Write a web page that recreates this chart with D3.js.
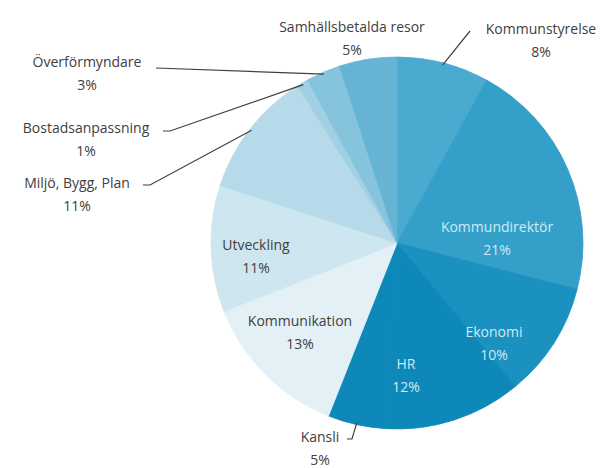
<!DOCTYPE html>
<html>
<head>
<meta charset="utf-8">
<script src="https://cdn.jsdelivr.net/npm/d3@7"></script>
<style>
  body { margin: 0; background: #fff; }
  svg text { font-family: 'Open Sans', sans-serif; }
</style>
</head>
<body>
<svg id="chart" width="610" height="468"></svg>
<script>
const categories = ['Kommunstyrelse', 'Kommundirektör', 'Ekonomi', 'HR', 'Kansli', 'Kommunikation',
  'Utveckling', 'Miljö, Bygg, Plan', 'Bostadsanpassning', 'Överförmyndare', 'Samhällsbetalda resor'];
const values = [8, 21, 10, 12, 5, 13, 11, 11, 1, 3, 5];
const sliceColors = ['#4aaad0', '#34a0c9', '#1a91be', '#0e88b9', '#0e88b9', '#e3f1f7',
  '#cde6f0', '#b6dae9', '#9fd0e3', '#86c3dc', '#66b4d4'];

const svg = d3.select('#chart');
const cx = 397;
const cy = 243;
const radius = 186;

// label placement, relative to the pie centre
const labelPos = {
  Kommunstyrelse: { x: 144, y: -214, leader: [[73, -212]] },
  'Kommundirektör': { x: 100, y: -16, light: true },
  Ekonomi: { x: 97, y: 89, light: true },
  HR: { x: 9, y: 121, light: true },
  Kansli: { x: -77, y: 194, leader: [[-50, 196], [-45, 196]] },
  Kommunikation: { x: -97, y: 78 },
  Utveckling: { x: -141, y: 2 },
  'Miljö, Bygg, Plan': { x: -320, y: -60, leader: [[-254, -58], [-247, -58]] },
  Bostadsanpassning: { x: -311, y: -115, leader: [[-234, -112], [-227, -112]] },
  'Överförmyndare': { x: -310, y: -181, leader: [[-241, -175]] },
  'Samhällsbetalda resor': { x: -45, y: -216 },
};

const data = categories.map((name, i) => ({ name, value: values[i], color: sliceColors[i] }));

const pie = d3.pie().sort(null).value(d => d.value);
const arc = d3.arc().innerRadius(0).outerRadius(radius);
const arcs = pie(data);

const g = svg.append('g').attr('transform', `translate(${cx},${cy})`);

g.selectAll('path.slice')
  .data(arcs)
  .enter()
  .append('path')
  .attr('class', 'slice')
  .attr('d', arc)
  .attr('fill', d => d.data.color)
  .attr('stroke', d => d.data.color)
  .attr('stroke-width', 0.8);

// leader lines end on the rim at the middle of each slice
const rimPoint = (d) => {
  const a = (d.startAngle + d.endAngle) / 2;
  return [Math.sin(a) * (radius - 2), -Math.cos(a) * (radius - 2)];
};

g.selectAll('path.leader')
  .data(arcs.filter(d => labelPos[d.data.name].leader))
  .enter()
  .append('path')
  .attr('class', 'leader')
  .attr('fill', 'none')
  .attr('stroke', '#404040')
  .attr('stroke-width', 1.2)
  .attr('d', d => d3.line()([...labelPos[d.data.name].leader, rimPoint(d)]));

const labels = g.selectAll('g.label')
  .data(arcs)
  .enter()
  .append('g')
  .attr('class', 'label')
  .attr('transform', d => `translate(${labelPos[d.data.name].x},${labelPos[d.data.name].y})`)
  .attr('text-anchor', 'middle')
  .attr('font-size', 14)
  .attr('fill', d => (labelPos[d.data.name].light ? '#cfeaf5' : '#404040'));

labels.append('text')
  .attr('dy', '0.35em')
  .text(d => d.data.name);

labels.append('text')
  .attr('dy', '0.35em')
  .attr('y', 23)
  .text(d => `${d.data.value}%`);
</script>
</body>
</html>
